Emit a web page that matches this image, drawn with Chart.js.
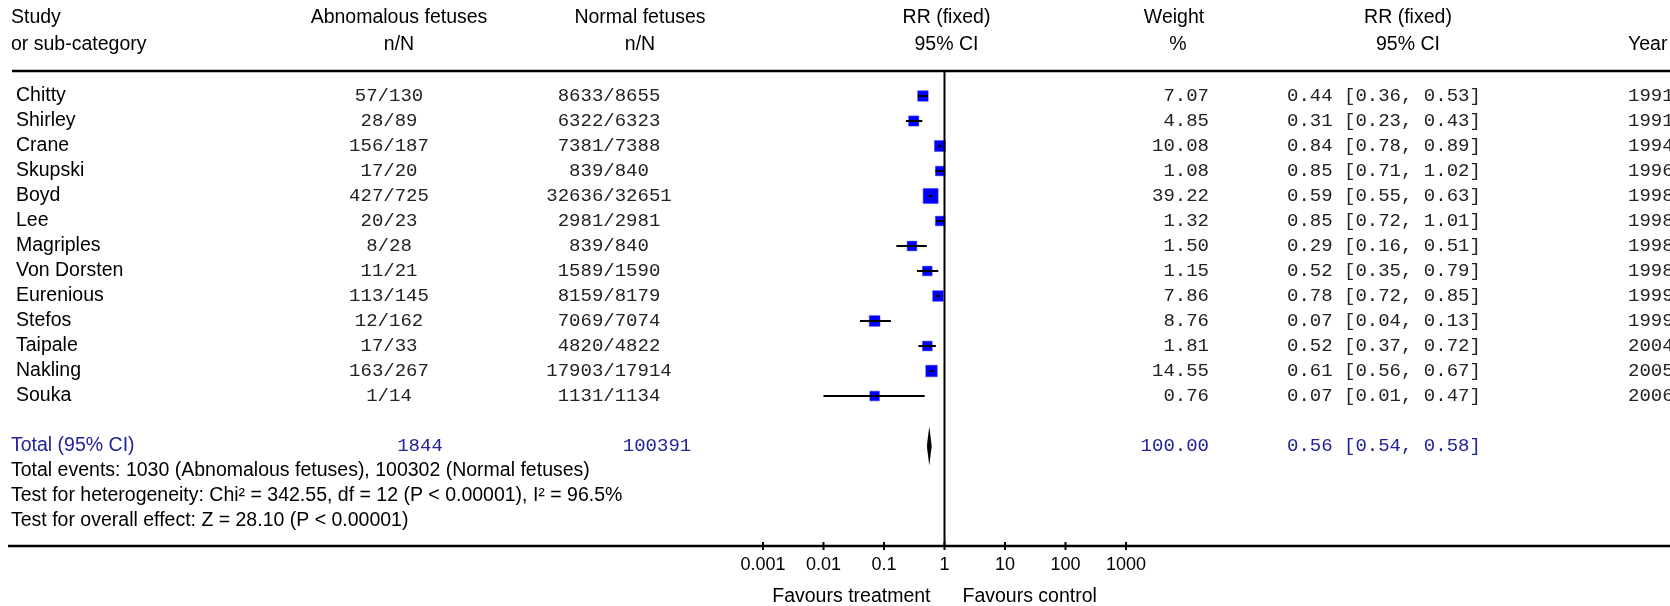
<!DOCTYPE html>
<html>
<head>
<meta charset="utf-8">
<script src="https://cdn.jsdelivr.net/npm/chart.js@4.4.1/dist/chart.umd.min.js"></script>
<style>
  html, body { margin: 0; padding: 0; background: #fff; }
  #wrap { width: 1670px; height: 606px; }
</style>
</head>
<body>
<div id="wrap"><canvas id="forest" width="1670" height="606"></canvas></div>
<script>
// Datos
const estudios = ['Chitty', 'Shirley', 'Crane', 'Skupski', 'Boyd', 'Lee', 'Magriples',
  'Von Dorsten', 'Eurenious', 'Stefos', 'Taipale', 'Nakling', 'Souka'];
const anormales = ['57/130', '28/89', '156/187', '17/20', '427/725', '20/23', '8/28',
  '11/21', '113/145', '12/162', '17/33', '163/267', '1/14'];
const normales = ['8633/8655', '6322/6323', '7381/7388', '839/840', '32636/32651', '2981/2981',
  '839/840', '1589/1590', '8159/8179', '7069/7074', '4820/4822', '17903/17914', '1131/1134'];
const rr = [0.44, 0.31, 0.84, 0.85, 0.59, 0.85, 0.29, 0.52, 0.78, 0.07, 0.52, 0.61, 0.07];
const ic_inf = [0.36, 0.23, 0.78, 0.71, 0.55, 0.72, 0.16, 0.35, 0.72, 0.04, 0.37, 0.56, 0.01];
const ic_sup = [0.53, 0.43, 0.89, 1.02, 0.63, 1.01, 0.51, 0.79, 0.85, 0.13, 0.72, 0.67, 0.47];
const pesos = [7.07, 4.85, 10.08, 1.08, 39.22, 1.32, 1.50, 1.15, 7.86, 8.76, 1.81, 14.55, 0.76];
const anios = [1991, 1991, 1994, 1996, 1998, 1998, 1998, 1998, 1999, 1999, 2004, 2005, 2006];

const total_rr = 0.56;
const total_inf = 0.54;
const total_sup = 0.58;
const total_peso = 100.00;
const total_anormales = '1844';
const total_normales = '100391';

const notas = [
  'Total events: 1030 (Abnomalous fetuses), 100302 (Normal fetuses)',
  'Test for heterogeneity: Chi\u00b2 = 342.55, df = 12 (P < 0.00001), I\u00b2 = 96.5%',
  'Test for overall effect: Z = 28.10 (P < 0.00001)'
];

const ticks_x = [0.001, 0.01, 0.1, 1, 10, 100, 1000];
const etiquetas_x = ['0.001', '0.01', '0.1', '1', '10', '100', '1000'];

const SANS = '19.5px "Liberation Sans", Arial, sans-serif';
const TICK = '18px "Liberation Sans", Arial, sans-serif';
const MONO = '19px "Liberation Mono", "Courier New", monospace';
const AZUL_TOTAL = '#22229a';
const GRIS_MONO = '#222';

function texto(ctx, str, x, y, align, font, color) {
  ctx.font = font;
  ctx.fillStyle = color || '#000';
  ctx.textAlign = align;
  ctx.textBaseline = 'middle';
  ctx.fillText(str, x, y);
}

function linea(ctx, x1, y1, x2, y2, w) {
  ctx.beginPath();
  ctx.lineWidth = w;
  ctx.strokeStyle = '#000';
  ctx.moveTo(x1, y1);
  ctx.lineTo(x2, y2);
  ctx.stroke();
}

// intervalos de confianza (una linea por estudio)
const datasets = estudios.map((nombre, i) => ({
  type: 'line',
  label: nombre,
  data: [{ x: ic_inf[i], y: i }, { x: ic_sup[i], y: i }],
  borderColor: '#000',
  borderWidth: 2,
  pointRadius: 0,
  fill: false
}));

// diamante del total
const fila_total = estudios.length + 1;
datasets.push({
  type: 'line',
  label: 'Total',
  data: [
    { x: total_inf, y: fila_total },
    { x: total_rr, y: fila_total - 0.3 },
    { x: total_sup, y: fila_total },
    { x: total_rr, y: fila_total + 0.3 },
    { x: total_inf, y: fila_total }
  ],
  borderColor: '#000',
  backgroundColor: '#000',
  borderWidth: 3,
  pointRadius: 0,
  fill: 'shape'
});

// cajas (tamano segun el peso)
datasets.push({
  type: 'scatter',
  label: 'RR',
  data: rr.map((v, i) => ({ x: v, y: i })),
  pointStyle: 'rect',
  backgroundColor: '#0000ff',
  borderColor: '#3a3aff',
  borderWidth: 0.5,
  pointRadius: ctx => (9.5 + 0.14 * pesos[ctx.dataIndex]) / Math.SQRT2
});

const tabla = {
  id: 'tabla',
  afterDatasetsDraw(chart) {
    const ctx = chart.ctx;
    const xs = chart.scales.x;
    const ys = chart.scales.y;
    const arriba = ys.getPixelForValue(-1);
    const abajo = ys.getPixelForValue(18);
    const x1 = xs.getPixelForValue(1);
    ctx.save();

    // encabezados
    const h1 = 18, h2 = 45;
    texto(ctx, 'Study', 11, h1, 'left', SANS);
    texto(ctx, 'or sub-category', 11, h2, 'left', SANS);
    texto(ctx, 'Abnomalous fetuses', 399, h1, 'center', SANS);
    texto(ctx, 'n/N', 399, h2, 'center', SANS);
    texto(ctx, 'Normal fetuses', 640, h1, 'center', SANS);
    texto(ctx, 'n/N', 640, h2, 'center', SANS);
    texto(ctx, 'RR (fixed)', x1 + 2, h1, 'center', SANS);
    texto(ctx, '95% CI', x1 + 2, h2, 'center', SANS);
    texto(ctx, 'Weight', 1174, h1, 'center', SANS);
    texto(ctx, '%', 1178, h2, 'center', SANS);
    texto(ctx, 'RR (fixed)', 1408, h1, 'center', SANS);
    texto(ctx, '95% CI', 1408, h2, 'center', SANS);
    texto(ctx, 'Year', 1628, h2, 'left', SANS);

    // lineas horizontales y vertical
    linea(ctx, 12, arriba, 1670, arriba, 2.5);
    linea(ctx, 8, abajo, 1670, abajo, 2.5);
    linea(ctx, x1, arriba, x1, abajo, 2);

    // filas de estudios
    estudios.forEach((nombre, i) => {
      const y = ys.getPixelForValue(i);
      texto(ctx, nombre, 16, y, 'left', SANS);
      texto(ctx, anormales[i], 389, y, 'center', MONO, GRIS_MONO);
      texto(ctx, normales[i], 609, y, 'center', MONO, GRIS_MONO);
      texto(ctx, pesos[i].toFixed(2), 1209, y, 'right', MONO, GRIS_MONO);
      texto(ctx, rr[i].toFixed(2) + ' [' + ic_inf[i].toFixed(2) + ', ' + ic_sup[i].toFixed(2) + ']',
        1287, y, 'left', MONO, GRIS_MONO);
      texto(ctx, String(anios[i]), 1628, y, 'left', MONO, GRIS_MONO);
    });

    // fila total
    const yt = ys.getPixelForValue(fila_total);
    texto(ctx, 'Total (95% CI)', 11, yt, 'left', SANS, AZUL_TOTAL);
    texto(ctx, total_anormales, 420, yt, 'center', MONO, AZUL_TOTAL);
    texto(ctx, total_normales, 657, yt, 'center', MONO, AZUL_TOTAL);
    texto(ctx, total_peso.toFixed(2), 1209, yt, 'right', MONO, AZUL_TOTAL);
    texto(ctx, total_rr.toFixed(2) + ' [' + total_inf.toFixed(2) + ', ' + total_sup.toFixed(2) + ']',
      1287, yt, 'left', MONO, AZUL_TOTAL);

    notas.forEach((n, k) => {
      texto(ctx, n, 11, ys.getPixelForValue(fila_total + 1 + k), 'left', SANS);
    });

    // eje x logaritmico
    ticks_x.forEach((t, k) => {
      const x = xs.getPixelForValue(t);
      linea(ctx, x, abajo - 4, x, abajo + 4, 2);
      texto(ctx, etiquetas_x[k], x, abajo + 19, 'center', TICK);
    });
    texto(ctx, 'Favours treatment', x1 - 14, abajo + 51, 'right', SANS);
    texto(ctx, 'Favours control', x1 + 18, abajo + 51, 'left', SANS);

    ctx.restore();
  }
};

new Chart(document.getElementById('forest'), {
  data: { datasets },
  options: {
    responsive: false,
    devicePixelRatio: 1,
    animation: false,
    layout: { padding: { left: 763, right: 544, top: 71, bottom: 60 } },
    scales: {
      x: { type: 'logarithmic', min: 0.001, max: 1000, display: false },
      y: { type: 'linear', min: -1, max: 18, reverse: true, display: false }
    },
    plugins: {
      legend: { display: false },
      tooltip: { enabled: false }
    }
  },
  plugins: [tabla]
});
</script>
</body>
</html>
